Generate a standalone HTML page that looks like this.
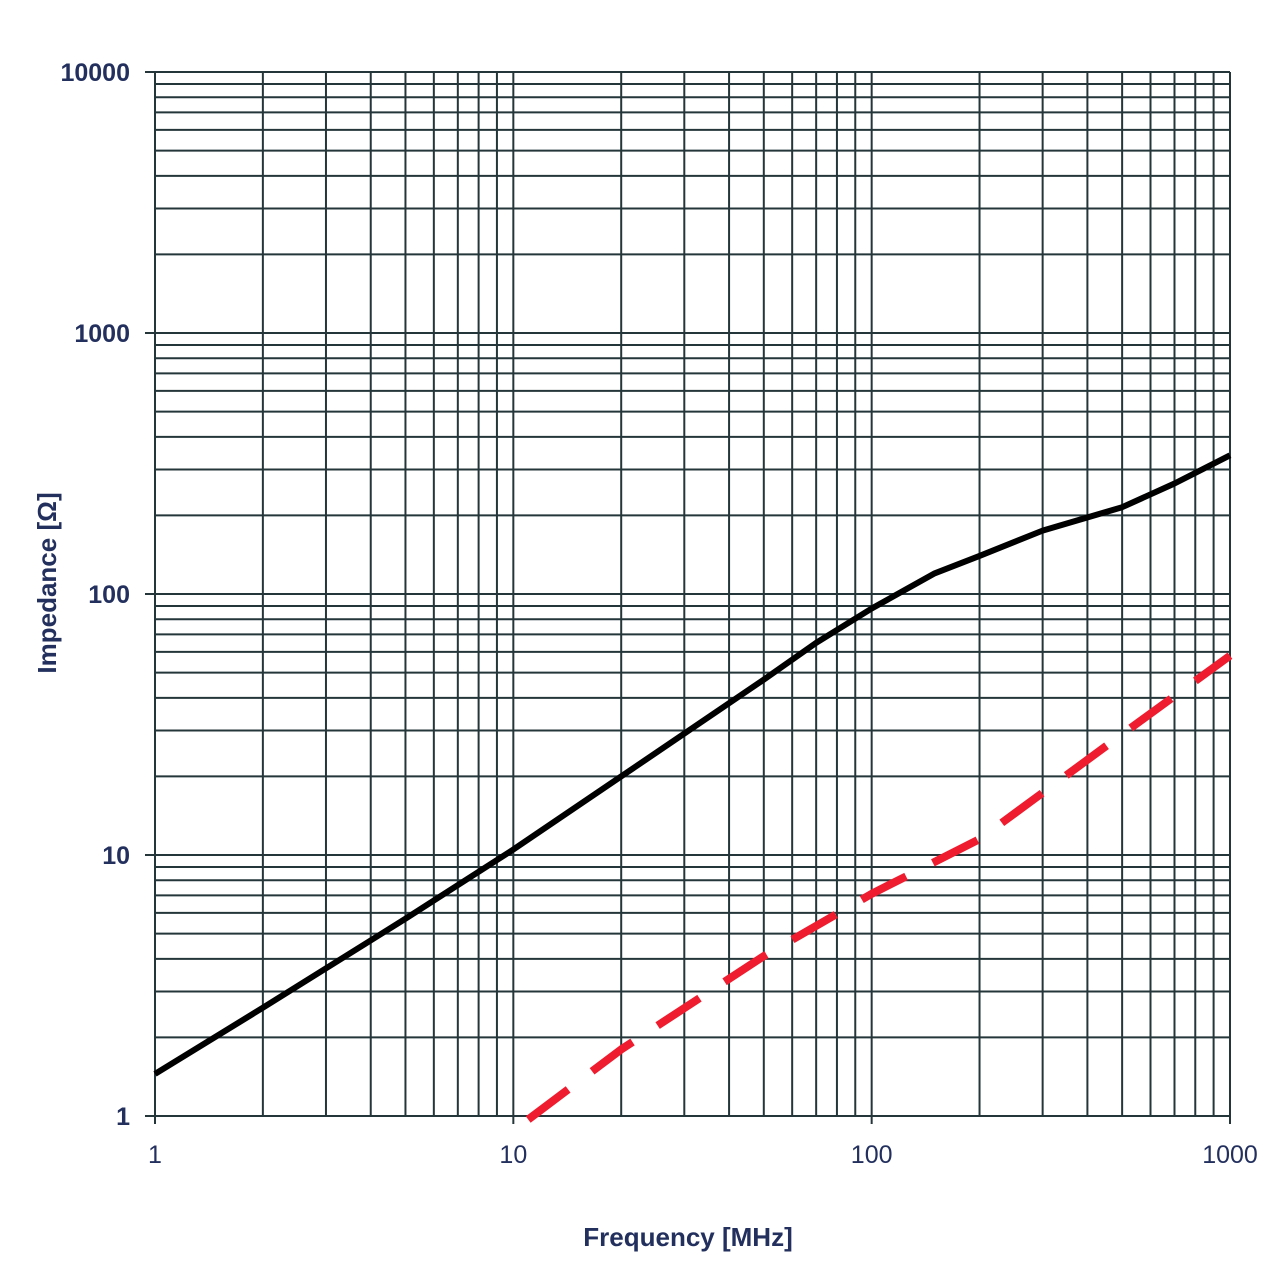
<!DOCTYPE html>
<html><head><meta charset="utf-8"><style>
html,body{margin:0;padding:0;background:#fff;width:1280px;height:1280px;overflow:hidden}
svg text{font-family:"Liberation Sans",sans-serif;font-weight:bold;fill:#23305e}
</style></head><body>
<svg id="chart" width="1280" height="1280" viewBox="0 0 1280 1280" xmlns="http://www.w3.org/2000/svg">
<g id="grid"></g>
<g id="series"></g>
<g id="labels"></g>
<text x="688" y="1246" font-size="26" text-anchor="middle">Frequency  [MHz]</text>
<text transform="translate(56,583) rotate(-90)" font-size="26" text-anchor="middle">Impedance [Ω]</text>
</svg>
<script>
const xTicks=[1,10,100,1000];
const yTicks=[1,10,100,1000,10000];
const blackFreq=[1,2,5,10,20,50,70,100,150,200,300,500,700,1000];
const blackZ=[1.45,2.6,5.7,10.5,20,47,65,88,120,140,175,215,265,340];
const redFreq=[11,20,50,100,200,500,1000];
const redZ=[0.97,1.8,4.1,7.1,11.5,29,58];
const X0=155,X1=1230,Y0=1116,Y1=72;
function xs(f){return X0+(X1-X0)*Math.log10(f)/3;}
function ys(v){return Y0-(Y0-Y1)*Math.log10(v)/4;}
const NS='http://www.w3.org/2000/svg';
const grid=document.getElementById('grid');
function line(x1,y1,x2,y2,w,name){const l=document.createElementNS(NS,'line');
l.setAttribute('x1',x1);l.setAttribute('y1',y1);l.setAttribute('x2',x2);l.setAttribute('y2',y2);
l.setAttribute('stroke','#24363a');l.setAttribute('stroke-width',w);


grid.appendChild(l);}
for(let d=0;d<3;d++)for(let m=1;m<=10;m++){if(m==10&&d<2)continue;const f=m*Math.pow(10,d);line(xs(f),Y1,xs(f),Y0+(m==1||m==10?8:0),2,'x-grid-line');}
for(let d=0;d<4;d++)for(let m=1;m<=10;m++){if(m==10&&d<3)continue;const v=m*Math.pow(10,d);line(X0-(m==1||m==10?10:0),ys(v),X1,ys(v),2,'y-grid-line');}
const lab=document.getElementById('labels');
xTicks.forEach(t=>{const e=document.createElementNS(NS,'text');e.setAttribute('x',xs(t));e.setAttribute('y',1163);e.setAttribute('font-size','25');e.setAttribute('text-anchor','middle');e.style.fontWeight='normal';e.textContent=t;


lab.appendChild(e);});
yTicks.forEach(t=>{const e=document.createElementNS(NS,'text');e.setAttribute('x',130);e.setAttribute('y',ys(t)+9);e.setAttribute('font-size','25');e.setAttribute('text-anchor','end');e.textContent=t;


lab.appendChild(e);});
const ser=document.getElementById('series');
function path(fs,zs,color,w,dash,name){const p=document.createElementNS(NS,'path');
p.setAttribute('d',fs.map((f,i)=>(i?'L':'M')+xs(f).toFixed(1)+','+ys(zs[i]).toFixed(1)).join(''));
p.setAttribute('fill','none');p.setAttribute('stroke',color);p.setAttribute('stroke-width',w);p.setAttribute('stroke-linejoin','round');
if(dash)p.setAttribute('stroke-dasharray',dash);


ser.appendChild(p);}
path(blackFreq,blackZ,'#000',6,null,'impedance-line');
path(redFreq,redZ,'#ee1c2e',8,'50 30','resistance-dashed-line');
</script>
</body></html>
